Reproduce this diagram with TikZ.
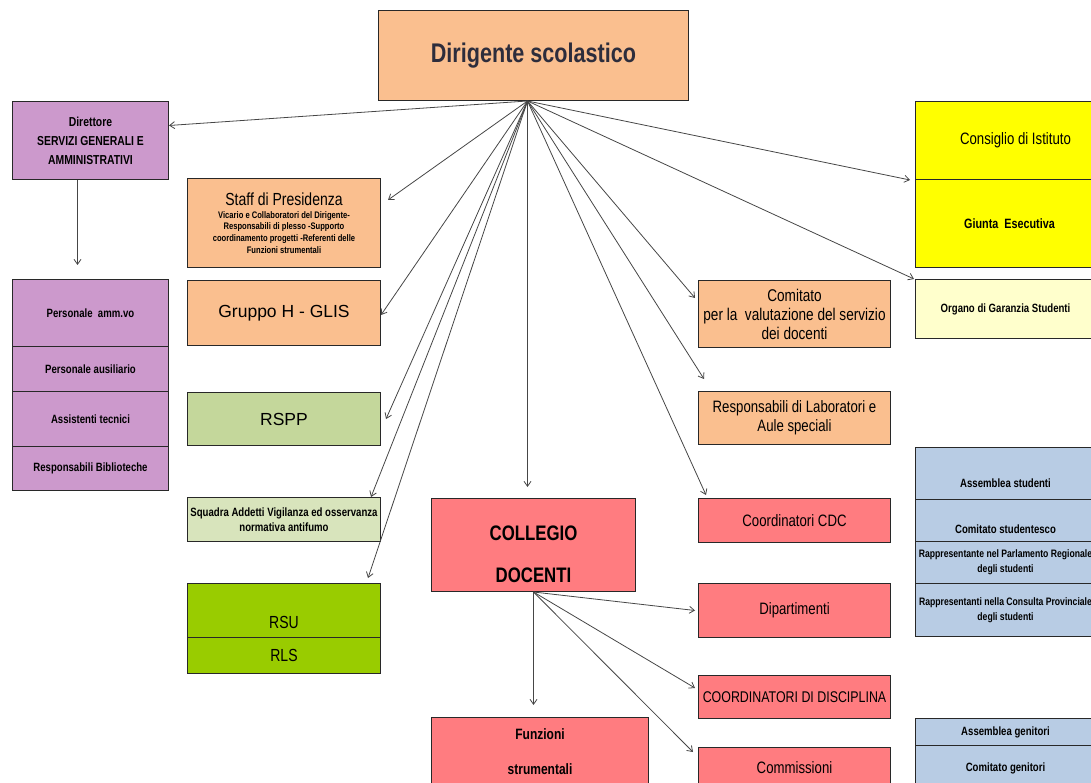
\documentclass[tikz,border=0pt]{standalone}
\usepackage{fontspec}
\setmainfont[FakeStretch=0.8]{Liberation Sans}
\newfontfamily\widesf{Liberation Sans}
\usepackage{tikz}
\usetikzlibrary{arrows.meta}
\definecolor{peach}{RGB}{250,191,143}
\definecolor{lilac}{RGB}{204,153,204}
\definecolor{rsppgreen}{RGB}{196,215,155}
\definecolor{palegreen}{RGB}{216,228,188}
\definecolor{limegreen}{RGB}{153,204,0}
\definecolor{brightyellow}{RGB}{255,255,0}
\definecolor{paleyellow}{RGB}{255,255,204}
\definecolor{softblue}{RGB}{184,204,228}
\definecolor{salmon}{RGB}{255,124,128}
\definecolor{boxrule}{RGB}{40,40,40}
\definecolor{linkgray}{RGB}{70,70,70}
\definecolor{headink}{RGB}{45,45,60}
\tikzset{
  orgbox/.style={rectangle,draw=boxrule,line width=1pt,align=center,anchor=north west,inner sep=1pt},
  bigtext/.style={font=\bfseries\fontsize{27}{32}\selectfont,text=headink},
  titletext/.style={font=\fontsize{17.5}{20}\selectfont},
  widetext/.style={font=\widesf\fontsize{17.5}{20}\selectfont},
  midtext/.style={font=\fontsize{16.5}{19}\selectfont},
  smalltext/.style={font=\bfseries\fontsize{12}{15}\selectfont},
  link/.style={-{Straight Barb[length=5pt,width=7pt]},draw=linkgray,line width=0.8pt}
}

\begin{document}
\begin{tikzpicture}[x=1pt,y=-1pt]
  \useasboundingbox (0,0) rectangle (1091,783);

  % vertice
  \node[orgbox,fill=peach,bigtext,minimum width=310,minimum height=90] (ds) at (378,10) {Dirigente scolastico};

  % colonna sinistra
  \node[orgbox,fill=lilac,minimum width=156,minimum height=78,font=\bfseries\fontsize{13}{19}\selectfont] (dsga) at (12,101) {Direttore\\SERVIZI GENERALI E\\AMMINISTRATIVI};
  \node[orgbox,fill=lilac,smalltext,minimum width=156,minimum height=67] (pers) at (12,279) {Personale\ \ amm.vo};
  \node[orgbox,fill=lilac,smalltext,minimum width=156,minimum height=45] (aus) at (12,346) {Personale ausiliario};
  \node[orgbox,fill=lilac,smalltext,minimum width=156,minimum height=55] (tec) at (12,391) {Assistenti tecnici};
  \node[orgbox,fill=lilac,smalltext,minimum width=156,minimum height=44] (bib) at (12,446) {Responsabili Biblioteche};

  % seconda colonna
  \node[orgbox,fill=peach,minimum width=193,minimum height=89,font=\bfseries\fontsize{9.5}{11.7}\selectfont] (staff) at (187,178) {{\mdseries\fontsize{17.5}{20}\selectfont Staff di Presidenza}\\[1pt]
    Vicario e Collaboratori del Dirigente-\\Responsabili di plesso -Supporto\\coordinamento progetti -Referenti delle\\Funzioni strumentali};
  \node[orgbox,fill=peach,widetext,minimum width=193,minimum height=65] (gh) at (187,280) {Gruppo H - GLIS};
  \node[orgbox,fill=rsppgreen,widetext,minimum width=193,minimum height=53] (rspp) at (187,392) {RSPP};
  \node[orgbox,fill=palegreen,smalltext,minimum width=193,minimum height=44] (squad) at (187,497) {Squadra Addetti Vigilanza ed osservanza\\normativa antifumo};
  \node[orgbox,fill=limegreen,titletext,minimum width=193,minimum height=54] (rsu) at (187,583) {\rule{0pt}{36pt}RSU};
  \node[orgbox,fill=limegreen,titletext,minimum width=193,minimum height=36] (rls) at (187,637) {RLS};

  % collegio
  \node[orgbox,fill=salmon,minimum width=204,minimum height=93,font=\bfseries\fontsize{21}{42}\selectfont] (coll) at (431,498) {\rule{0pt}{34pt}COLLEGIO\\DOCENTI};
  \node[orgbox,fill=salmon,minimum width=217,minimum height=69,font=\bfseries\fontsize{15}{35}\selectfont] (funz) at (431,717) {Funzioni\\strumentali};

  % colonna centrale destra
  \node[orgbox,fill=peach,minimum width=192,minimum height=67,font=\fontsize{17}{19}\selectfont] (com) at (698,280) {Comitato\\per la\ \ valutazione del servizio\\dei docenti};
  \node[orgbox,fill=peach,midtext,minimum width=192,minimum height=53] (lab) at (698,391) {Responsabili di Laboratori e\\Aule speciali};
  \node[orgbox,fill=salmon,midtext,minimum width=192,minimum height=44] (cdc) at (698,498) {Coordinatori CDC};
  \node[orgbox,fill=salmon,midtext,minimum width=192,minimum height=54] (dip) at (698,583) {Dipartimenti};
  \node[orgbox,fill=salmon,minimum width=192,minimum height=43,font=\fontsize{15.5}{19}\selectfont] (cdisc) at (698,675) {COORDINATORI DI DISCIPLINA};
  \node[orgbox,fill=salmon,midtext,minimum width=192,minimum height=40] (comm) at (698,747) {Commissioni};

  % colonna destra
  \node[orgbox,fill=brightyellow,midtext,minimum width=180,minimum height=78] (cons) at (915,101) {\hspace*{20pt}Consiglio di Istituto};
  \node[orgbox,fill=brightyellow,minimum width=180,minimum height=88,font=\bfseries\fontsize{13.5}{16}\selectfont] (giunta) at (915,179) {\hspace*{8pt}Giunta\ \ Esecutiva};
  \node[orgbox,fill=paleyellow,smalltext,minimum width=180,minimum height=59] (org) at (915,279) {Organo di Garanzia Studenti};
  \node[orgbox,fill=softblue,smalltext,minimum width=180,minimum height=52] (ast) at (915,447) {\rule{0pt}{28pt}Assemblea studenti};
  \node[orgbox,fill=softblue,smalltext,minimum width=180,minimum height=42] (cst) at (915,499) {\rule{0pt}{26pt}Comitato studentesco};
  \node[orgbox,fill=softblue,minimum width=180,minimum height=42,font=\bfseries\fontsize{10.8}{15}\selectfont] (rpr) at (915,541) {Rappresentante nel Parlamento Regionale\\degli studenti};
  \node[orgbox,fill=softblue,minimum width=180,minimum height=53,font=\bfseries\fontsize{10.8}{15}\selectfont] (rcp) at (915,583) {Rappresentanti nella Consulta Provinciale\\degli studenti};
  \node[orgbox,fill=softblue,smalltext,minimum width=180,minimum height=27] (agen) at (915,718) {Assemblea genitori};
  \node[orgbox,fill=softblue,smalltext,minimum width=180,minimum height=45] (cgen) at (915,745) {Comitato genitori};

  % frecce dal dirigente
  \coordinate (apex) at ([xshift=-6pt]ds.south);
  \draw[link] (apex) -- ([yshift=15pt]dsga.east);
  \draw[link] (apex) -- ([shift={(7pt,23pt)}]staff.east);
  \draw[link] (apex) -- ([yshift=-2pt]gh.east);
  \draw[link] (apex) -- ([xshift=5pt]rspp.east);
  \draw[link] (apex) -- ([xshift=-10pt]squad.north east);
  \draw[link] (apex) -- ([shift={(-13pt,5pt)}]rsu.north east);
  \draw[link] (apex) -- ([shift={(-6pt,11pt)}]coll.north);
  \draw[link] (apex) -- ([shift={(-3pt,16pt)}]com.west);
  \draw[link] (apex) -- ([shift={(6pt,12pt)}]lab.north west);
  \draw[link] (apex) -- ([shift={(8pt,3pt)}]cdc.north west);
  \draw[link] (apex) -- ([xshift=-5pt]cons.south west);
  \draw[link] (apex) -- ([xshift=-1pt]org.north west);
  \draw[link] ([xshift=-13pt]dsga.south) -- ([shift={(-13pt,14pt)}]pers.north);

  % frecce dal collegio
  \draw[link] (coll.south) -- ([shift={(-6.5pt,12pt)}]funz.north);
  \draw[link] (coll.south) -- ([xshift=-3pt]dip.west);
  \draw[link] (coll.south) -- ([shift={(-3pt,9pt)}]cdisc.west);
  \draw[link] (coll.south) -- ([shift={(-5pt,-5pt)}]comm.north west);
\end{tikzpicture}
\end{document}
